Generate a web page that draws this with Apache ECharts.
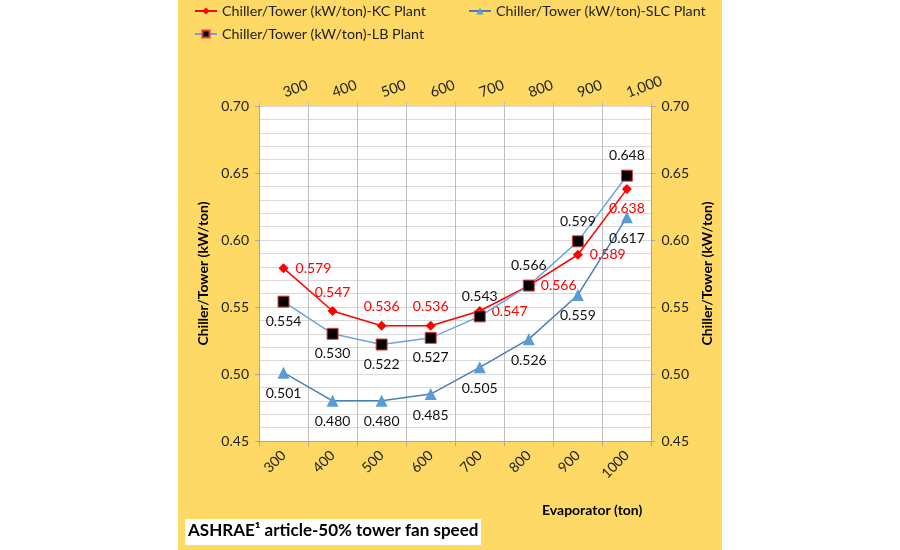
<!DOCTYPE html>
<html>
<head>
<meta charset="utf-8">
<script src="https://cdn.jsdelivr.net/npm/echarts@6/dist/echarts.min.js"></script>
<style>
  html, body { margin: 0; padding: 0; background: #fff; }
  #chart { position: absolute; left: 178px; top: 0; width: 544px; height: 550px; }
</style>
</head>
<body>
<div id="chart"></div>
<script>
// evaporator load categories
const tonsBottom = ['300', '400', '500', '600', '700', '800', '900', '1000']
const tonsTop = ['300', '400', '500', '600', '700', '800', '900', '1,000']

// kW/ton for each plant
const kcPlant = [0.579, 0.547, 0.536, 0.536, 0.547, 0.566, 0.589, 0.638]
const slcPlant = [0.501, 0.480, 0.480, 0.485, 0.505, 0.526, 0.559, 0.617]
const lbPlant = [0.554, 0.530, 0.522, 0.527, 0.543, 0.566, 0.599, 0.648]

// where each data label sits
const kcLabelPos = ['right', 'top', 'top', 'top', 'right', 'right', 'right', 'bottom']
const slcLabelPos = ['bottom', 'bottom', 'bottom', 'bottom', 'bottom', 'bottom', 'bottom', 'bottom']
const lbLabelPos = ['bottom', 'bottom', 'bottom', 'bottom', 'top', 'top', 'top', 'top']

const FONT = 'Lato'
const NAME_KC = 'Chiller/Tower (kW/ton)-KC Plant'
const NAME_SLC = 'Chiller/Tower (kW/ton)-SLC Plant'
const NAME_LB = 'Chiller/Tower (kW/ton)-LB Plant'

function withLabels(values, positions) {
  return values.map((v, i) => ({ value: v, label: { position: positions[i] } }))
}

const legendBase = {
  padding: 0,
  itemWidth: 22,
  itemHeight: 9,
  textStyle: { fontFamily: FONT, fontSize: 14.3, color: '#222' }
}

const yAxisBase = {
  type: 'value',
  min: 0.45,
  max: 0.7,
  interval: 0.05,
  nameLocation: 'middle',
  nameTextStyle: { fontFamily: FONT, fontWeight: 'bold', fontSize: 14, color: '#000' },
  axisLine: { show: true, lineStyle: { color: '#A6A6A6' } },
  axisTick: { show: true, inside: false, length: 4, lineStyle: { color: '#A6A6A6' } },
  axisLabel: {
    fontFamily: FONT,
    fontSize: 14,
    color: '#222',
    margin: 10,
    formatter: (v) => v.toFixed(2)
  }
}

const chart = echarts.init(document.getElementById('chart'))
chart.setOption({
  backgroundColor: '#FFD966',
  animation: false,
  grid: {
    left: 81,
    right: 58,
    top: 106,
    bottom: 109,
    show: true,
    backgroundColor: '#fff',
    borderWidth: 0
  },
  legend: [
    Object.assign({}, legendBase, { data: [NAME_KC], left: 16, top: 4 }),
    Object.assign({}, legendBase, { data: [NAME_SLC], left: 290, top: 4 }),
    Object.assign({}, legendBase, { data: [NAME_LB], left: 16, top: 27 })
  ],
  xAxis: [
    {
      type: 'category',
      position: 'bottom',
      data: tonsBottom,
      boundaryGap: true,
      axisLine: { lineStyle: { color: '#A6A6A6' } },
      axisTick: { show: true, length: 5, lineStyle: { color: '#A6A6A6' } },
      axisLabel: { rotate: 45, interval: 0, fontFamily: FONT, fontSize: 14, color: '#222', margin: 12 },
      splitLine: { show: true, lineStyle: { color: '#BFBFBF' } }
    },
    {
      type: 'category',
      position: 'top',
      data: tonsTop,
      boundaryGap: true,
      axisLine: { show: false },
      axisTick: { show: true, length: 4, lineStyle: { color: '#BFBFBF' } },
      axisLabel: {
        // top axis mirrors the rotation, so negative tilts the text up-right
        rotate: -20,
        interval: 0,
        align: 'left',
        verticalAlign: 'middle',
        fontFamily: FONT,
        fontSize: 14.5,
        color: '#222',
        margin: 13
      },
      splitLine: { show: false }
    }
  ],
  yAxis: [
    Object.assign({}, yAxisBase, {
      position: 'left',
      name: 'Chiller/Tower (kW/ton)',
      nameGap: 46,
      splitLine: { show: true, lineStyle: { color: '#D9D9D9' } },
      minorTick: { show: false, splitNumber: 5 },
      minorSplitLine: { show: true, lineStyle: { color: '#D9D9D9' } }
    }),
    Object.assign({}, yAxisBase, {
      position: 'right',
      name: 'Chiller/Tower (kW/ton)',
      nameGap: 41,
      splitLine: { show: false }
    })
  ],
  series: [
    {
      name: NAME_KC,
      type: 'line',
      data: withLabels(kcPlant, kcLabelPos),
      symbol: 'diamond',
      symbolSize: 10,
      color: '#FF0000',
      lineStyle: { color: '#FF0000', width: 1.5 },
      itemStyle: { color: '#FF0000' },
      label: {
        show: true,
        fontFamily: FONT,
        fontSize: 14,
        color: '#FF0000',
        distance: 7,
        formatter: (p) => p.value.toFixed(3)
      },
      z: 3
    },
    {
      name: NAME_SLC,
      type: 'line',
      data: withLabels(slcPlant, slcLabelPos),
      symbol: 'triangle',
      symbolSize: 12,
      color: '#5B9BD5',
      lineStyle: { color: '#4A7EBB', width: 1.5 },
      itemStyle: { color: '#5B9BD5' },
      label: {
        show: true,
        fontFamily: FONT,
        fontSize: 14,
        color: '#111',
        distance: 8,
        formatter: (p) => p.value.toFixed(3)
      },
      z: 2
    },
    {
      name: NAME_LB,
      type: 'line',
      data: withLabels(lbPlant, lbLabelPos),
      symbol: 'rect',
      symbolSize: 11,
      color: '#000',
      lineStyle: { color: '#6FA3DC', width: 1.5 },
      itemStyle: { color: '#000', borderColor: '#E04040', borderWidth: 1 },
      label: {
        show: true,
        fontFamily: FONT,
        fontSize: 14,
        color: '#111',
        distance: 7,
        formatter: (p) => p.value.toFixed(3)
      },
      z: 4
    }
  ],
  graphic: [
    {
      type: 'text',
      left: 364,
      top: 503,
      style: { text: 'Evaporator (ton)', fontFamily: FONT, fontWeight: 'bold', fontSize: 14, fill: '#000' }
    },
    {
      type: 'rect',
      left: 7,
      top: 519,
      shape: { width: 296, height: 26 },
      style: { fill: '#fff' }
    },
    {
      type: 'text',
      left: 10,
      top: 522,
      style: { text: 'ASHRAE¹ article-50% tower fan speed', fontFamily: FONT, fontWeight: 'bold', fontSize: 17, fill: '#000' }
    }
  ]
})
</script>
</body>
</html>
